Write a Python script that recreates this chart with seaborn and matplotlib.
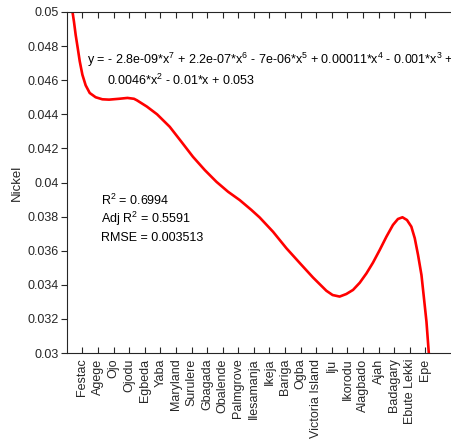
import matplotlib
matplotlib.use("Agg")
import matplotlib.pyplot as plt
import seaborn as sns
import pandas as pd

# Sampling sites along the x axis
sites = ["Festac", "Agege", "Ojo", "Ojodu", "Egbeda", "Yaba", "Maryland",
         "Surulere", "Gbagada", "Obalende", "Palmgrove", "Ilesamanja", "Ikeja",
         "Bariga", "Ogba", "Victoria Island", "Iju", "Ikorodu", "Alagbado",
         "Ajah", "Badagary", "Ebute Lekki", "Epe"]

# Fitted polynomial trend for nickel (site index, concentration)
fit_x = [0.35, 0.46, 0.57, 0.70, 0.83, 1.00, 1.21, 1.47, 1.85, 2.28, 2.71,
         3.35, 3.89, 4.31, 4.50, 5.14, 5.79, 6.60, 7.35, 8.09, 8.85, 9.60,
         10.34, 11.09, 11.84, 12.37, 13.23, 14.09, 14.94, 15.79, 16.65,
         17.05, 17.50, 17.93, 18.36, 18.79, 19.22, 19.64, 20.07, 20.50,
         20.92, 21.24, 21.53, 21.82, 22.10, 22.32, 22.53, 22.75, 22.91,
         23.07, 23.22]
fit_y = [0.05010, 0.04943, 0.04865, 0.04789, 0.04711, 0.04632, 0.04570,
         0.04525, 0.04500, 0.04488, 0.04486, 0.04491, 0.04496, 0.04491,
         0.04482, 0.04445, 0.04400, 0.04327, 0.04239, 0.04151, 0.04073,
         0.04004, 0.03946, 0.03897, 0.03839, 0.03795, 0.03711, 0.03614,
         0.03528, 0.03443, 0.03365, 0.03340, 0.03331, 0.03346, 0.03370,
         0.03412, 0.03467, 0.03530, 0.03604, 0.03682, 0.03751, 0.03786,
         0.03796, 0.03780, 0.03741, 0.03673, 0.03575, 0.03457, 0.03321,
         0.03184, 0.03000]

y_ticks = [0.03, 0.032, 0.034, 0.036, 0.038, 0.04, 0.042, 0.044, 0.046, 0.048, 0.05]
y_tick_labels = ["0.03", "0.032", "0.034", "0.036", "0.038", "0.04",
                 "0.042", "0.044", "0.046", "0.048", "0.05"]

equation_1 = (r"y = - 2.8e-09*x$^{7}$ + 2.2e-07*x$^{6}$ - 7e-06*x$^{5}$"
              r" + 0.00011*x$^{4}$ - 0.001*x$^{3}$ +")
equation_2 = r"0.0046*x$^{2}$ - 0.01*x + 0.053"
stats_lines = [r"R$^{2}$ = 0.6994", r"Adj R$^{2}$ = 0.5591", "RMSE = 0.003513"]

sns.set_theme(style="white")
plt.rcParams["font.family"] = ["Liberation Sans", "DejaVu Sans"]
plt.rcParams["mathtext.fontset"] = "custom"
plt.rcParams["mathtext.rm"] = "Liberation Sans"
plt.rcParams["mathtext.it"] = "Liberation Sans:italic"
plt.rcParams["mathtext.bf"] = "Liberation Sans:bold"

W, H = 452, 441
fig = plt.figure(figsize=(W / 100, H / 100), dpi=100)

def fx(px):
    return px / W

def fy(py):
    return 1 - py / H

left_px, top_px, bottom_px = 66.8, 12, 353
ax_w_px = 15.59 * 25
ax = fig.add_axes([fx(left_px), fy(bottom_px), ax_w_px / W, (bottom_px - top_px) / H])

df = pd.DataFrame({"site": fit_x, "nickel": fit_y})
sns.lineplot(data=df, x="site", y="nickel", ax=ax, color="#ff0000",
             linewidth=1.9, clip_on=True)

ink = "#262626"
fs = 9
ax.set_xlim(0, 25)
ax.set_ylim(0.03, 0.05)
ax.set_xticks(range(1, len(sites) + 1))
ax.set_xticklabels(sites, rotation=90, fontsize=fs, color=ink)
ax.set_yticks(y_ticks)
ax.set_yticklabels(y_tick_labels, fontsize=fs, color=ink)
ax.set_xlabel("")
ax.set_ylabel("Nickel", fontsize=9.5, color=ink, labelpad=3)

ax.tick_params(axis="x", direction="in", length=4, width=0.8, colors=ink,
               top=True, bottom=True, pad=4)
ax.tick_params(axis="y", direction="out", length=4, width=0.8, colors=ink,
               left=True, pad=2)
for side in ["left", "top", "bottom"]:
    ax.spines[side].set_color(ink)
    ax.spines[side].set_linewidth(0.8)
ax.spines["right"].set_visible(False)

fig.text(fx(87), fy(60), equation_1, fontsize=fs, color="black", va="center", ha="left")
fig.text(fx(107), fy(80), equation_2, fontsize=fs, color="black", va="center", ha="left")
for i, line in enumerate(stats_lines):
    fig.text(fx(101), fy(200 + 19 * i), line, fontsize=fs, color="black",
             va="center", ha="left")

fig.savefig("out.png", dpi=100)
